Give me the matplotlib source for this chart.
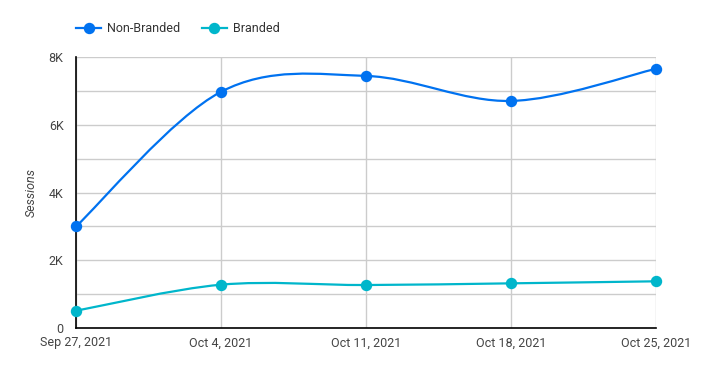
import matplotlib
matplotlib.use('Agg')
import numpy as np
import matplotlib.pyplot as plt
from matplotlib.path import Path
from matplotlib.patches import PathPatch
from matplotlib.lines import Line2D
from matplotlib.ticker import FuncFormatter

plt.rcParams['font.family'] = ['Roboto', 'DejaVu Sans']

# data
dates = ["Sep 27, 2021", "Oct 4, 2021", "Oct 11, 2021", "Oct 18, 2021", "Oct 25, 2021"]
non_branded = [3000, 6980, 7450, 6710, 7660]
branded = [510, 1280, 1270, 1320, 1380]

BLUE = '#0072f0'
TEAL = '#00b6cb'


def smooth_path(xs, ys):
    # catmull-rom style bezier through the points (rendering only)
    xs = np.asarray(xs, float)
    ys = np.asarray(ys, float)
    n = len(xs)
    verts = [(xs[0], ys[0])]
    codes = [Path.MOVETO]
    for i in range(n - 1):
        p0 = i - 1 if i > 0 else i
        p3 = i + 2 if i + 2 < n else i + 1
        c1 = (xs[i] + (xs[i + 1] - xs[p0]) / 6, ys[i] + (ys[i + 1] - ys[p0]) / 6)
        c2 = (xs[i + 1] - (xs[p3] - xs[i]) / 6, ys[i + 1] - (ys[p3] - ys[i]) / 6)
        verts += [c1, c2, (xs[i + 1], ys[i + 1])]
        codes += [Path.CURVE4] * 3
    return Path(verts, codes)


fig = plt.figure(figsize=(7.07, 3.70), dpi=100)
ax = fig.add_axes([76 / 707, 42 / 370, 580 / 707, 270.7 / 370])

x = np.arange(len(dates))
for vals, col in [(non_branded, BLUE), (branded, TEAL)]:
    ax.add_patch(PathPatch(smooth_path(x, vals), fill=False, edgecolor=col,
                           lw=1.6, zorder=3, clip_on=False))
    ax.plot(x, vals, 'o', color=col, markersize=7.2, zorder=4, clip_on=False)

ax.set_xlim(0, len(dates) - 1)
ax.set_ylim(0, 8000)
ax.set_xticks(x)
ax.set_xticklabels(dates)
ax.set_yticks([0, 2000, 4000, 6000, 8000])
ax.set_yticks([1000, 3000, 5000, 7000], minor=True)
ax.yaxis.set_major_formatter(FuncFormatter(lambda v, p: '0' if v == 0 else '%dK' % (v / 1000)))

ax.grid(True, which='both', color='#cccccc', lw=1.0, zorder=0)
ax.set_axisbelow(True)
ax.tick_params(axis='both', which='both', length=0, labelsize=9, labelcolor='#444444')
ax.tick_params(axis='y', pad=9)
ax.tick_params(axis='x', pad=6)

for s in ['top', 'right']:
    ax.spines[s].set_visible(False)
for s in ['left', 'bottom']:
    ax.spines[s].set_color('black')
    ax.spines[s].set_linewidth(1.2)
    ax.spines[s].set_zorder(2.5)

ax.set_ylabel('Sessions', fontsize=9, style='italic', color='#444444')
ax.yaxis.set_label_coords(-38 / 580, 0.5)

handles = [Line2D([], [], color=BLUE, lw=1.6, marker='o', markersize=7.2),
           Line2D([], [], color=TEAL, lw=1.6, marker='o', markersize=7.2)]
fig.legend(handles, ['Non-Branded', 'Branded'], loc='center left',
           bbox_to_anchor=(76 / 707, 1 - 29 / 370), ncol=2, frameon=False,
           fontsize=9, handlelength=2.0, handletextpad=0.5, columnspacing=1.7,
           borderpad=0, borderaxespad=0, labelcolor='#333333')

fig.savefig('out.png', dpi=100, facecolor='white')
